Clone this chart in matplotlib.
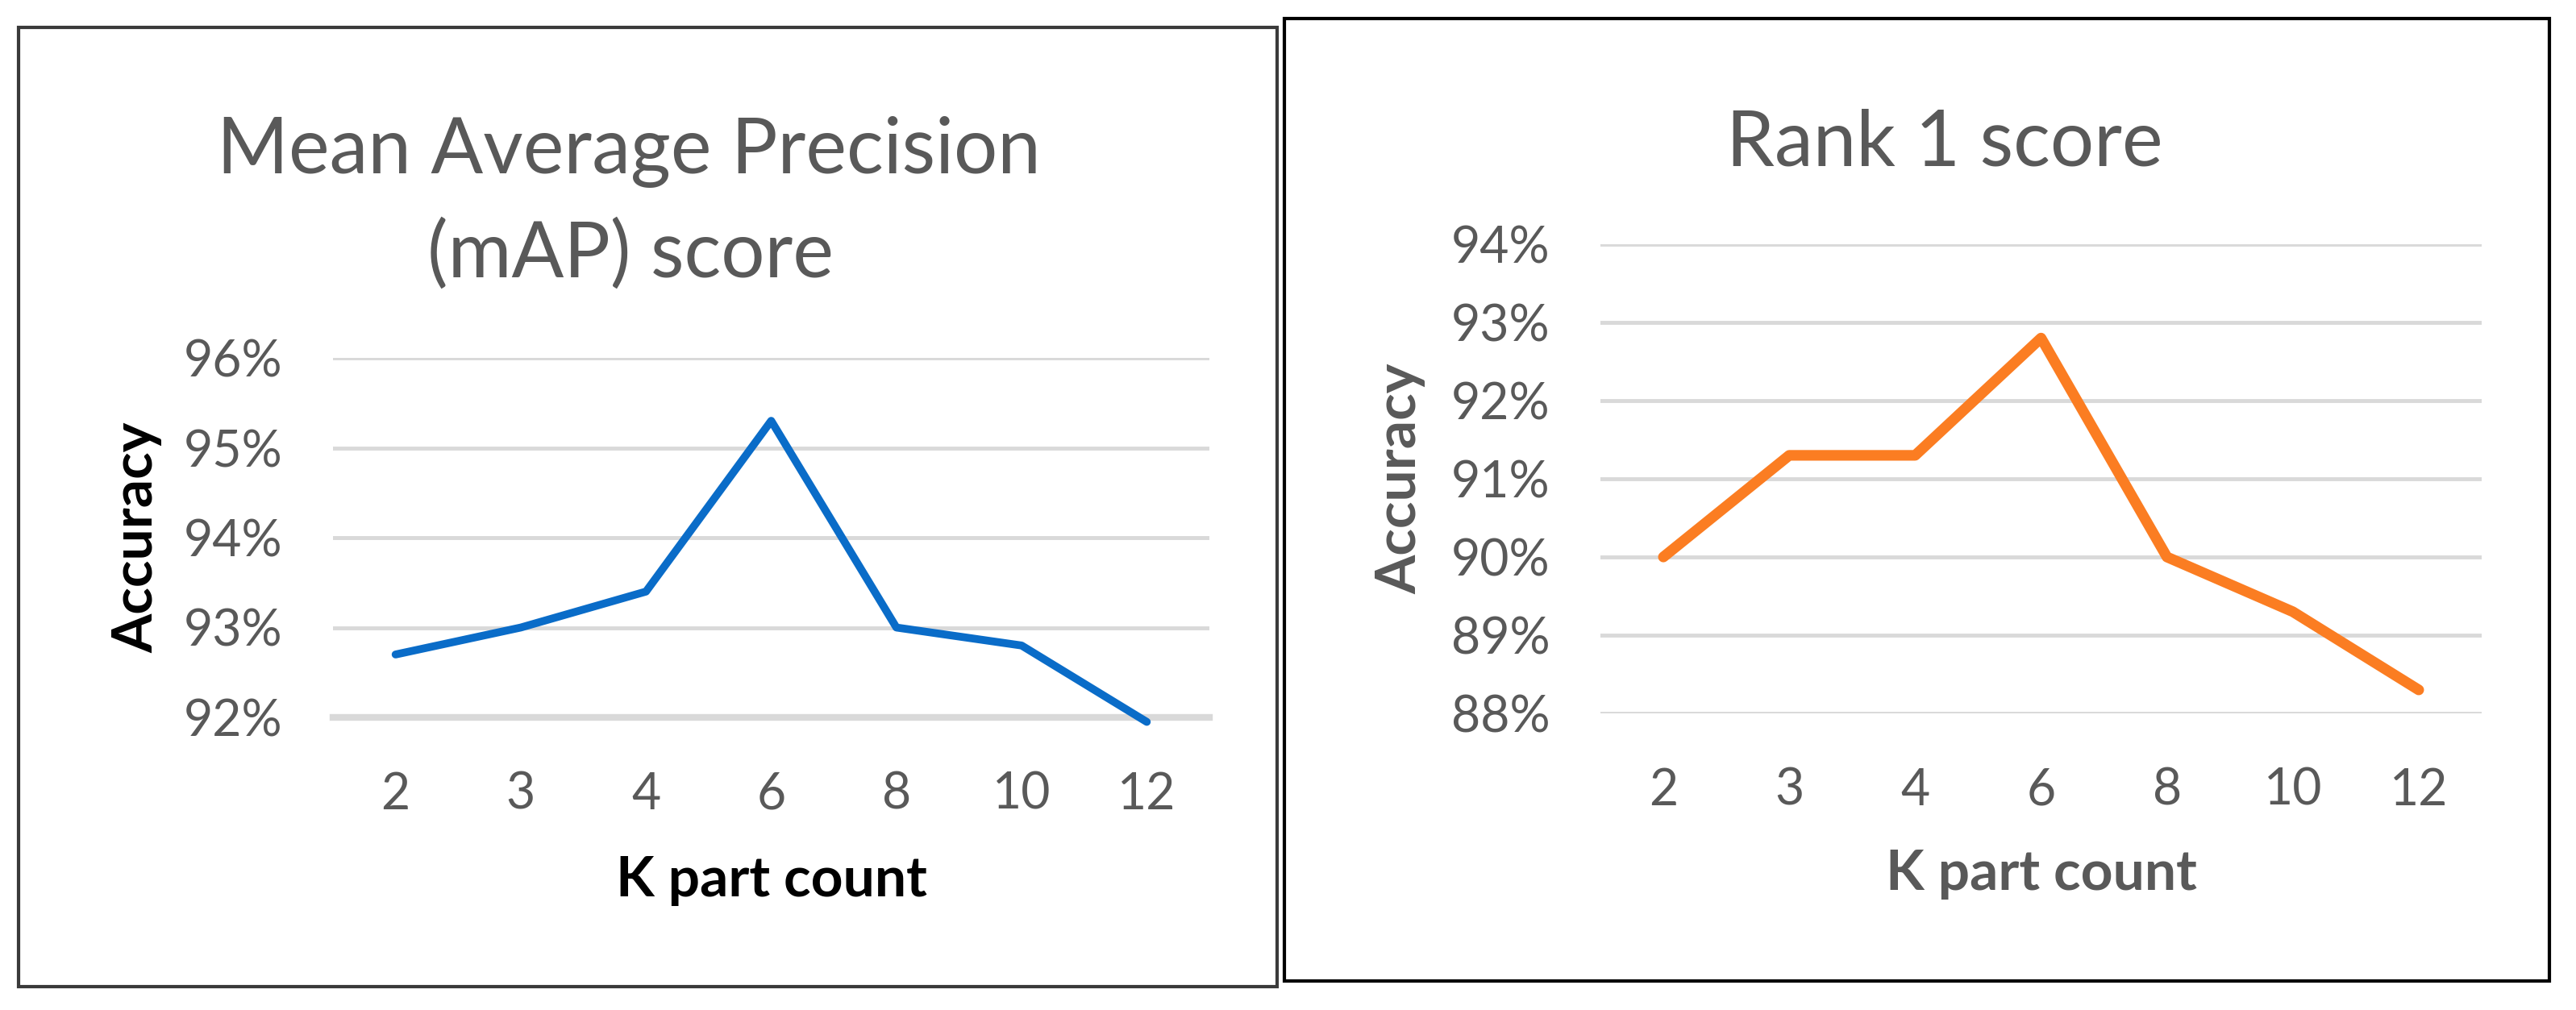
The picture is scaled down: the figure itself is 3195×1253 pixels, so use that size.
#Two line charts: mAP score and Rank 1 score vs K part count

import matplotlib
matplotlib.use("Agg")
import matplotlib.pyplot as plt
from matplotlib.patches import Rectangle
from matplotlib.ticker import PercentFormatter

plt.rcParams['font.family'] = ['Lato', 'DejaVu Sans']

#data
k_parts = ['2', '3', '4', '6', '8', '10', '12']
map_scores = [92.7, 93.0, 93.4, 95.3, 93.0, 92.8, 91.95]
rank1_scores = [90.0, 91.3, 91.3, 92.8, 90.0, 89.3, 88.3]
map_ticks = [92, 93, 94, 95, 96]
rank1_ticks = [88, 89, 90, 91, 92, 93, 94]

W, H = 3195, 1253
fig = plt.figure(figsize=(W/100, H/100), dpi=100)

def fx(px):
    return px/W

def fy(py):
    return 1-py/H

grey = '#595959'
grid_c = '#d9d9d9'

#panel frames
fig.patches.append(Rectangle((fx(23), fy(1224)), fx(1584)-fx(23), fy(34)-fy(1224),
                             transform=fig.transFigure, fill=False, ec='#3a3a3a', lw=3))
fig.patches.append(Rectangle((fx(1593), fy(1217)), fx(3162)-fx(1593), fy(23)-fy(1217),
                             transform=fig.transFigure, fill=False, ec='black', lw=3))

def setup(ax, ticks):
    ax.set_xlim(-0.5, len(k_parts)-0.5)
    ax.set_ylim(ticks[0], ticks[-1])
    ax.set_yticks(ticks)
    ax.yaxis.set_major_formatter(PercentFormatter(xmax=100, decimals=0))
    ax.set_xticks(range(len(k_parts)))
    ax.set_xticklabels(k_parts)
    ax.grid(axis='y', color=grid_c, lw=3.5)
    ax.set_axisbelow(True)
    for s in ax.spines.values():
        s.set_visible(False)
    ax.tick_params(axis='both', length=0, labelsize=45, labelcolor=grey)
    ax.tick_params(axis='y', pad=45)
    ax.tick_params(axis='x', pad=48)

#left chart - mAP
ax1 = fig.add_axes([fx(413), fy(890), fx(1500)-fx(413), fy(444)-fy(890)])
setup(ax1, map_ticks)
ax1.spines['bottom'].set_visible(True)
ax1.spines['bottom'].set_color(grid_c)
ax1.spines['bottom'].set_linewidth(6)
ax1.plot(range(len(k_parts)), map_scores, color='#0a6cc8', lw=7,
         solid_capstyle='round', solid_joinstyle='round', clip_on=False, zorder=3)
ax1.set_xlabel('K part count', fontsize=50, fontweight='bold', color='black', va='center')
ax1.xaxis.set_label_coords(0.5, -0.453)
ax1.set_ylabel('Accuracy', fontsize=50, fontweight='bold', color='black', va='center')
ax1.yaxis.set_label_coords(-0.2236, 0.5)
fig.text(fx(780), fy(215), 'Mean Average Precision', fontsize=69, color=grey,
         ha='center', va='baseline')
fig.text(fx(782), fy(344), '(mAP) score', fontsize=69, color=grey,
         ha='center', va='baseline')

#right chart - Rank 1
ax2 = fig.add_axes([fx(1985), fy(885), fx(3078)-fx(1985), fy(303)-fy(885)])
setup(ax2, rank1_ticks)
ax2.plot(range(len(k_parts)), rank1_scores, color='#fb7d22', lw=9.5,
         solid_capstyle='round', solid_joinstyle='round', zorder=3)
ax2.set_xlabel('K part count', fontsize=50, fontweight='bold', color=grey, va='center')
ax2.xaxis.set_label_coords(0.5, -0.3436)
ax2.set_ylabel('Accuracy', fontsize=50, fontweight='bold', color=grey, va='center')
ax2.yaxis.set_label_coords(-0.2269, 0.5)
fig.text(fx(2412), fy(205), 'Rank 1 score', fontsize=69, color=grey,
         ha='center', va='baseline')

fig.savefig('out.png', dpi=100, facecolor='white')
